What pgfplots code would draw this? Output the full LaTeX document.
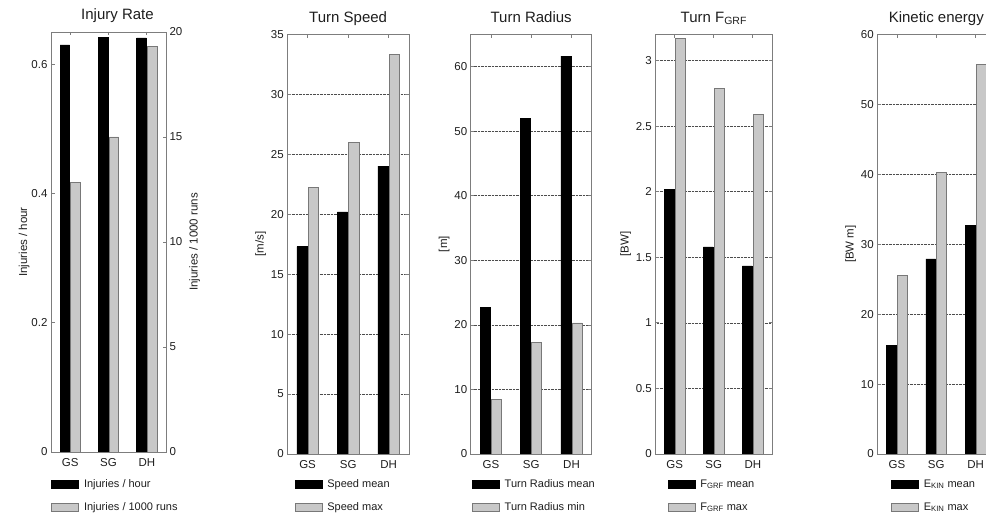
\documentclass[border=0pt]{standalone}
\usepackage{pgfplots}
\pgfplotsset{compat=1.18}
\usepackage{fontspec}
\setmainfont{Liberation Sans}
\definecolor{barg}{RGB}{200,200,200}
\definecolor{edgeg}{RGB}{120,120,120}
\definecolor{axg}{RGB}{125,125,125}
\definecolor{txt}{RGB}{30,30,30}
\newcommand\sub[1]{\textsubscript{#1}}
\pgfplotsset{
  legimg/.style={legend image code/.code={\draw[##1] (0pt,-4pt) rectangle (27pt,4pt);}},
  panel/.style={
    scale only axis, anchor=south west,
    xmin=0.5, xmax=3.5, ymin=0,
    xtick={1,2,3}, xticklabels={GS,SG,DH},
    tick align=inside, major tick length=3.5pt,
    axis line style={draw=axg, line width=0.7pt},
    every tick/.style={axg, line width=0.7pt},
    ymajorgrids, grid style={densely dotted, black!70, line width=0.6pt},
    tick label style={font=\fontsize{11.5}{13}\selectfont, text=txt},
    xticklabel style={yshift=-3pt},
    /pgf/number format/assume math mode=true,
    title style={font=\fontsize{15}{17}\selectfont, anchor=base, at={(0.5,1)}, yshift=6pt, text=txt},
    ylabel style={font=\fontsize{11.5}{13}\selectfont, text=txt},
    ylabel shift=-2pt,
    legend style={draw=none, fill=none, font=\fontsize{11}{13}\selectfont, text=txt,
      at={(0,0)}, anchor=north west, yshift=-25pt, inner sep=0pt, row sep=12.5pt,
      nodes={inner xsep=5pt, inner ysep=0pt, text height=8pt, text depth=2.5pt}},
    legend cell align=left,
  },
  mean/.style={ybar, bar width=0.25, bar shift=-0.14, fill=black, draw=black, line width=0.5pt, legimg},
  maxs/.style={ybar, bar width=0.25, bar shift=0.14, fill=barg, draw=edgeg, line width=0.8pt, legimg},
}
\begin{document}
\begin{tikzpicture}[x=1pt,y=1pt]
\path[use as bounding box] (0,0) rectangle (986,516);
\clip (0,0) rectangle (986,516);

% Panel 1: Injury Rate (two y axes)
\begin{axis}[panel, at={(51pt,64pt)}, width=115pt, height=420pt,
  ymax=0.65, ytick={0,0.2,0.4,0.6}, ytick pos=left, ymajorgrids=false,
  title={Injury Rate}, title style={xshift=9pt},
  ylabel={Injuries / hour}, ylabel shift=-5pt]
\addplot[mean] coordinates {(1,0.630) (2,0.642) (3,0.641)};
\end{axis}
\begin{axis}[panel, at={(51pt,64pt)}, width=115pt, height=420pt,
  ymax=20, ytick={0,5,10,15,20}, axis y line*=right, hide x axis, ymajorgrids=false,
  ylabel={Injuries / 1000 runs}, ylabel shift=0pt, legend style={yshift=-2pt}]
\addlegendimage{mean}
\addlegendentry{Injuries / hour}
\addplot[maxs] coordinates {(1,12.85) (2,15.0) (3,19.33)};
\addlegendentry{Injuries / 1000 runs}
\end{axis}

% Panel 2: Turn Speed
\begin{axis}[panel, at={(287.3pt,62pt)}, width=121.7pt, height=419.7pt,
  ymax=35, ytick={0,5,...,35}, title={Turn Speed}, ylabel={[m/s]},
  legend style={xshift=7pt}]
\addplot[mean] coordinates {(1,17.3) (2,20.2) (3,24.0)};
\addlegendentry{Speed mean}
\addplot[maxs] coordinates {(1,22.2) (2,26.0) (3,33.35)};
\addlegendentry{Speed max}
\end{axis}

% Panel 3: Turn Radius
\begin{axis}[panel, at={(470.7pt,62pt)}, width=121pt, height=419.7pt,
  ymax=65, ytick={0,10,...,60}, title={Turn Radius}, ylabel={[m]},
  legend style={xshift=1pt}]
\addplot[mean] coordinates {(1,22.7) (2,51.95) (3,61.6)};
\addlegendentry{Turn Radius mean}
\addplot[maxs] coordinates {(1,8.45) (2,17.3) (3,20.3)};
\addlegendentry{Turn Radius min}
\end{axis}

% Panel 4: Turn F_GRF
\begin{axis}[panel, at={(655.3pt,62pt)}, width=117pt, height=419.7pt,
  ymax=3.2, ytick={0,0.5,...,3}, title={Turn F\sub{GRF}}, ylabel={[BW]},
  legend style={xshift=12pt}]
\addplot[mean] coordinates {(1,2.02) (2,1.58) (3,1.435)};
\addlegendentry{F\sub{GRF} mean}
\addplot[maxs] coordinates {(1,3.165) (2,2.79) (3,2.59)};
\addlegendentry{F\sub{GRF} max}
\end{axis}

% Panel 5: Kinetic energy (cut at the right edge)
\begin{axis}[panel, at={(877.3pt,62pt)}, width=118pt, height=419.7pt,
  ymax=60, ytick={0,10,...,60}, title={Kinetic energy}, ylabel={[BW m]},
  legend style={xshift=13.5pt}]
\addplot[mean] coordinates {(1,15.5) (2,27.9) (3,32.7)};
\addlegendentry{E\sub{KIN} mean}
\addplot[maxs] coordinates {(1,25.5) (2,40.2) (3,55.7)};
\addlegendentry{E\sub{KIN} max}
\end{axis}
\end{tikzpicture}
\end{document}
